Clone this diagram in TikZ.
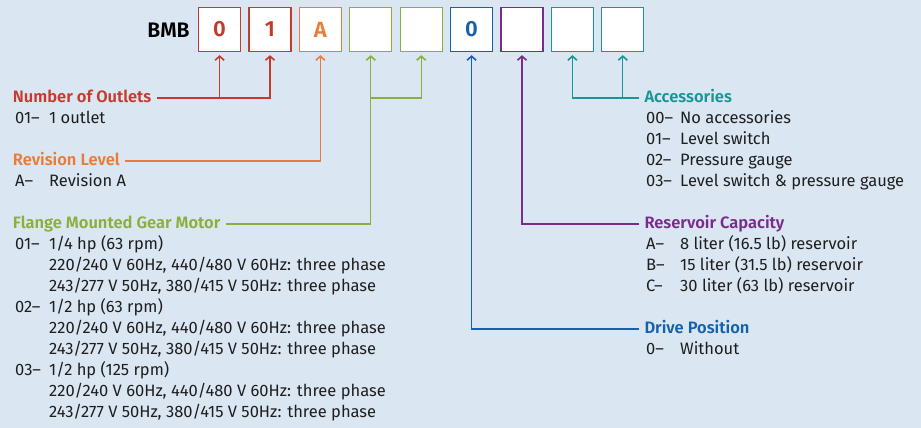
\documentclass[tikz,border=0pt]{standalone}
\usepackage{fontspec}
\setmainfont{Fira Sans}[BoldFont={Fira Sans SemiBold}]
\usetikzlibrary{arrows.meta,calc}

\definecolor{cRed}{RGB}{197,58,42}
\definecolor{cOrange}{RGB}{233,124,58}
\definecolor{cGreen}{RGB}{138,175,58}
\definecolor{cBlue}{RGB}{22,98,170}
\definecolor{cPurple}{RGB}{122,44,140}
\definecolor{cTeal}{RGB}{22,150,150}
\definecolor{cBg}{RGB}{218,230,242}
\definecolor{ink}{RGB}{30,30,30}

\newcommand{\cd}[1]{\makebox[34pt][l]{#1}}

\begin{document}
\begin{tikzpicture}[x=1pt,y=-1pt]
  \tikzset{
    digit/.style={draw=#1,fill=white,line width=1.3pt,minimum width=42pt,minimum height=44pt,
      inner sep=0pt,text=#1,font=\fontsize{22}{24}\selectfont\bfseries},
    head/.style={anchor=base west,inner xsep=5pt,inner ysep=0pt,text=#1,
      font=\fontsize{16.5}{21}\selectfont\bfseries},
    % multi-line item nodes sit on the baseline of their last line
    items/.style={anchor=base west,inner xsep=5pt,inner ysep=0pt,align=left,text=ink,
      font=\fontsize{16.5}{21}\selectfont},
    conn/.style={draw=#1,line width=1.3pt,-{Straight Barb[length=4pt,width=9pt,line width=1.6pt]}}
  }
  \fill[cBg] (0,0) rectangle (921,428);

  % model code
  \node[text=black,font=\fontsize{21}{24}\selectfont\bfseries] (bmb) at (168.5,30) {BMB};
  \node[digit=cRed] (b1) at (219.6,29.5) {0};
  \node[digit=cRed] (b2) at (270,29.5) {1};
  \node[digit=cOrange] (b3) at (320.4,29.5) {A};
  \node[digit=cGreen] (b4) at (370.8,29.5) {};
  \node[digit=cGreen] (b5) at (421.2,29.5) {};
  \node[digit=cBlue] (b6) at (471.6,29.5) {0};
  \node[digit=cPurple] (b7) at (522,29.5) {};
  \node[digit=cTeal] (b8) at (572.4,29.5) {};
  \node[digit=cTeal] (b9) at (622.8,29.5) {};

  % left column
  \node[head=cRed] (outlets) at (7.7,102.5) {Number of Outlets};
  \node[items] (outlets-t) at (10,123.5) {\cd{01–}1 outlet};
  \node[head=cOrange] (rev) at (7.7,165.5) {Revision Level};
  \node[items] (rev-t) at (10,186.5) {\cd{A–}Revision A};
  \node[head=cGreen] (motor) at (7.7,228.5) {Flange Mounted Gear Motor};
  \node[items] (motor-t) at (10,417.5) {\cd{01–}1/4 hp (63 rpm)\\
    \cd{}220/240 V 60Hz, 440/480 V 60Hz: three phase\\
    \cd{}243/277 V 50Hz, 380/415 V 50Hz: three phase\\
    \cd{02–}1/2 hp (63 rpm)\\
    \cd{}220/240 V 60Hz, 440/480 V 60Hz: three phase\\
    \cd{}243/277 V 50Hz, 380/415 V 50Hz: three phase\\
    \cd{03–}1/2 hp (125 rpm)\\
    \cd{}220/240 V 60Hz, 440/480 V 60Hz: three phase\\
    \cd{}243/277 V 50Hz, 380/415 V 50Hz: three phase};

  % right column
  \node[head=cTeal] (acc) at (639.3,102.5) {Accessories};
  \node[items] (acc-t) at (641,186.5) {\cd{00–}No accessories\\
    \cd{01–}Level switch\\
    \cd{02–}Pressure gauge\\
    \cd{03–}Level switch \& pressure gauge};
  \node[head=cPurple] (res) at (639.3,228.5) {Reservoir Capacity};
  \node[items] (res-t) at (641,291.5) {\cd{A–}8 liter (16.5 lb) reservoir\\
    \cd{B–}15 liter (31.5 lb) reservoir\\
    \cd{C–}30 liter (63 lb) reservoir};
  \node[head=cBlue] (drive) at (639.3,333.5) {Drive Position};
  \node[items] (drive-t) at (641,354.5) {\cd{0–}Without};

  % connectors
  \coordinate (j-out) at ([yshift=4.5pt]outlets.base east);
  \coordinate (j-rev) at ([yshift=4.5pt]rev.base east);
  \coordinate (j-mot) at ([yshift=4.5pt]motor.base east);
  \coordinate (j-acc) at ([yshift=4.5pt]acc.base west);
  \coordinate (j-res) at ([yshift=4.5pt]res.base west);
  \coordinate (j-drv) at ([yshift=4.5pt]drive.base west);

  \draw[conn=cRed] (j-out) -| ([yshift=-3pt]b2.south);
  \draw[conn=cRed] (b1 |- j-out) -- ([yshift=-3pt]b1.south);
  \draw[conn=cOrange] (j-rev) -| ([yshift=-3pt]b3.south);
  \draw[conn=cGreen] (j-mot) -| ([yshift=-3pt]b4.south);
  \draw[conn=cGreen] (b4 |- j-out) -| ([yshift=-3pt]b5.south);
  \draw[conn=cBlue] (j-drv) -| ([yshift=-3pt]b6.south);
  \draw[conn=cPurple] (j-res) -| ([yshift=-3pt]b7.south);
  \draw[conn=cTeal] (j-acc) -| ([yshift=-3pt]b8.south);
  \draw[conn=cTeal] (b9 |- j-acc) -- ([yshift=-3pt]b9.south);
\end{tikzpicture}
\end{document}
